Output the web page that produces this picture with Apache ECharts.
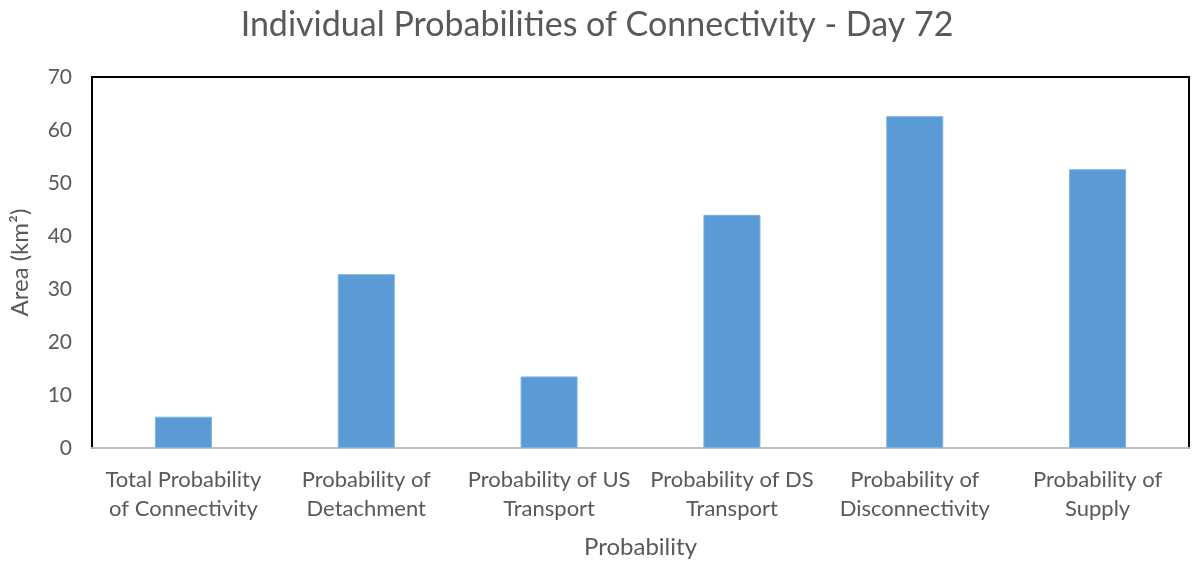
<!DOCTYPE html>
<html>
<head>
<meta charset="utf-8">
<script src="https://cdn.jsdelivr.net/npm/echarts@6/dist/echarts.min.js"></script>
<style>
  html, body { margin: 0; padding: 0; background: #fff; }
  #main { width: 1194px; height: 563px; }
</style>
</head>
<body>
<div id="main"></div>
<script>
// categories and bar values (km2)
var categories = [
    'Total Probability\nof Connectivity',
    'Probability of\nDetachment',
    'Probability of US\nTransport',
    'Probability of DS\nTransport',
    'Probability of\nDisconnectivity',
    'Probability of\nSupply'
];
var areaValues = [5.9, 32.8, 13.5, 44.0, 62.6, 52.6];

var textColor = '#595959';
var fontName = 'Lato';

var myChart = echarts.init(document.getElementById('main'), null, { renderer: 'canvas' });

var option = {
    animation: false,
    title: {
        text: 'Individual Probabilities of Connectivity - Day 72',
        left: 'center',
        top: 3,
        textStyle: { color: textColor, fontSize: 34, fontWeight: 'normal', fontFamily: fontName }
    },
    grid: {
        left: 92,
        right: 5,
        top: 77,
        bottom: 115,
        outerBoundsMode: 'none',
        show: true,
        borderColor: '#000',
        borderWidth: 2
    },
    xAxis: {
        type: 'category',
        data: categories,
        name: 'Probability',
        nameLocation: 'middle',
        nameGap: 87,
        nameTextStyle: { color: textColor, fontSize: 24, fontFamily: fontName },
        axisLine: { lineStyle: { color: '#bfbfbf', width: 2 } },
        axisTick: { show: false },
        axisLabel: {
            color: textColor, fontSize: 22, fontFamily: fontName,
            margin: 17, lineHeight: 29, interval: 0
        }
    },
    yAxis: {
        type: 'value',
        min: 0,
        max: 70,
        interval: 10,
        name: 'Area (km²)',
        nameLocation: 'middle',
        nameGap: 60,
        nameTextStyle: { color: textColor, fontSize: 24, fontFamily: fontName },
        axisLine: { show: true, lineStyle: { color: '#000', width: 2 } },
        axisTick: { show: false },
        splitLine: { show: false },
        axisLabel: { color: textColor, fontSize: 21, fontFamily: fontName, margin: 20 }
    },
    series: [{
        name: 'Area',
        type: 'bar',
        data: areaValues,
        barWidth: 57,
        itemStyle: { color: '#5b9bd5', borderColor: '#7fb0e0', borderWidth: 1 }
    }]
};

myChart.setOption(option);
</script>
</body>
</html>
